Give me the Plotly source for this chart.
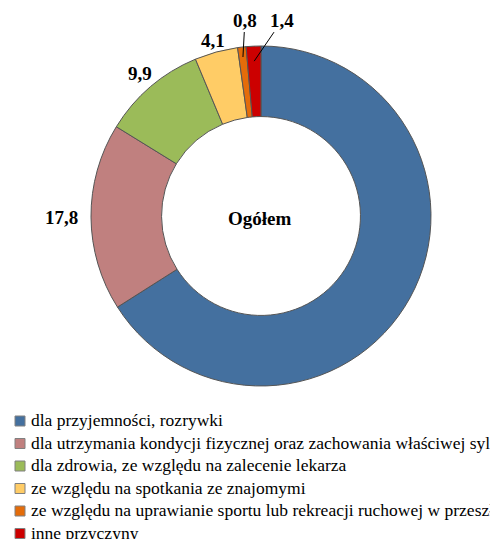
import math
import plotly.graph_objects as go

categories = [
    "dla przyjemności, rozrywki",
    "dla utrzymania kondycji fizycznej oraz zachowania właściwej sylwetki",
    "dla zdrowia, ze względu na zalecenie lekarza",
    "ze względu na spotkania ze znajomymi",
    "ze względu na uprawianie sportu lub rekreacji ruchowej w przeszłości",
    "inne przyczyny",
]
values = [66.0, 17.8, 9.9, 4.1, 0.8, 1.4]
label_texts = ["", "17,8", "9,9", "4,1", "0,8", "1,4"]
colors = ["#44709F", "#C0807F", "#9BBB59", "#FFCC66", "#E46C0A", "#CC0000"]
center_title = "Ogółem"

# page body has an 8px margin; figure is sized to fill the rest of the window
OFF = 8
W, H = 498 - OFF, 539 - OFF


def px_to_paper(px, py):
    return (px - OFF) / W, 1 - (py - OFF) / H


cx, cy, R = 261, 216, 170  # window-pixel geometry of the donut
x0, y0 = px_to_paper(cx - R, cy + R)
x1, y1 = px_to_paper(cx + R, cy - R)

fig = go.Figure(go.Pie(
    labels=categories,
    values=values,
    hole=0.585,
    sort=False,
    direction="clockwise",
    rotation=0,
    marker=dict(colors=colors, line=dict(color="#555555", width=1)),
    textinfo="none",
    hoverinfo="label+value",
    showlegend=False,
    domain=dict(x=[x0, x1], y=[y0, y1]),
))

# label placement (style): radial distance in px, or arrow offsets for small slices
label_dist = {1: 200, 2: 187, 3: 182}
arrow_off = {4: (2, -37), 5: (28, -41)}
arrow_r = {4: 160, 5: 155}
label_font = dict(family="Liberation Serif", size=19, color="#000000", weight="bold")

total = sum(values)
cum = 0.0
annotations = []
for i, v in enumerate(values):
    mid = (cum + v / 2) / total * 2 * math.pi
    cum += v
    dx, dy = math.sin(mid), math.cos(mid)
    txt = label_texts[i]
    if not txt:
        continue
    if i in arrow_off:
        r = arrow_r[i]
        ax_, ay_ = arrow_off[i]
        x, y = px_to_paper(cx + dx * r, cy - dy * r)
        annotations.append(dict(
            x=x, y=y, xref="paper", yref="paper",
            text=txt, showarrow=True, arrowhead=0, arrowwidth=1, arrowcolor="#000000",
            ax=ax_, ay=ay_, font=label_font, standoff=0,
        ))
    else:
        r = label_dist[i]
        x, y = px_to_paper(cx + dx * r, cy - dy * r)
        annotations.append(dict(
            x=x, y=y, xref="paper", yref="paper",
            text=txt, showarrow=False, font=label_font, xanchor="center", yanchor="middle",
        ))

x, y = px_to_paper(259, 218)
annotations.append(dict(
    x=x, y=y, xref="paper", yref="paper", text=center_title,
    showarrow=False, font=label_font,
))

# legend drawn below the donut (window-pixel layout)
leg_top, leg_step = 420, 22.5
sq_x0, sq_x1, sq_h = 15, 25, 10
txt_x = 29
shapes = []
for k, (name, col) in enumerate(zip(categories, colors)):
    yc = leg_top + k * leg_step
    a0, b0 = px_to_paper(sq_x0, yc + sq_h / 2 + 1)
    a1, b1 = px_to_paper(sq_x1, yc - sq_h / 2 + 1)
    shapes.append(dict(type="rect", xref="paper", yref="paper",
                       x0=a0, x1=a1, y0=b0, y1=b1, fillcolor=col,
                       line=dict(color="#808080", width=1)))
    tx, ty = px_to_paper(txt_x, yc)
    annotations.append(dict(
        x=tx, y=ty, xref="paper", yref="paper", text=name, showarrow=False,
        xanchor="left", yanchor="middle",
        font=dict(family="Liberation Serif", size=17.5, color="#000000"),
    ))

fig.update_layout(
    width=W, height=H,
    margin=dict(l=0, r=0, t=0, b=0, autoexpand=False),
    paper_bgcolor="white",
    plot_bgcolor="white",
    annotations=annotations,
    shapes=shapes,
    showlegend=False,
)

fig.write_html("out.html")
